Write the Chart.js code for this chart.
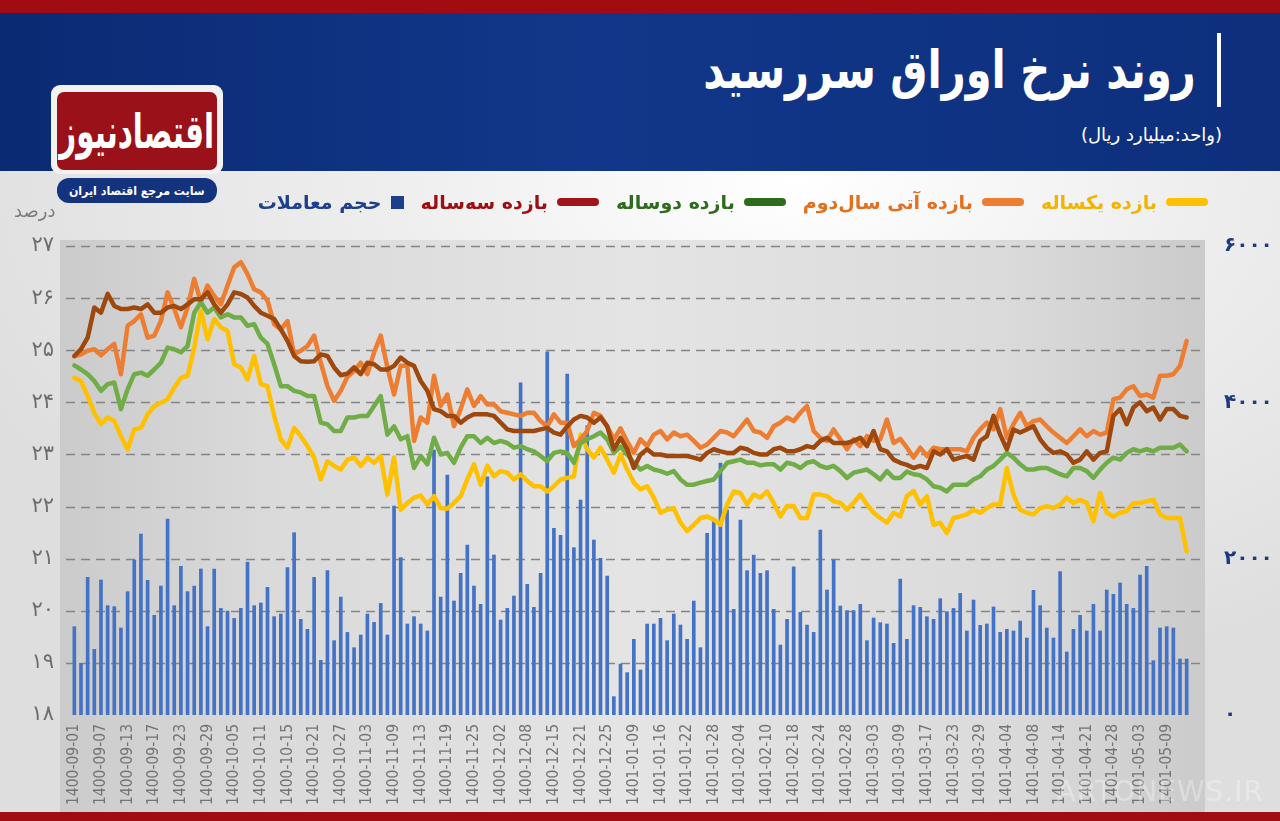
<!DOCTYPE html>
<html lang="fa">
<head>
<meta charset="utf-8">
<script src="https://cdn.jsdelivr.net/npm/chart.js@4.4.1/dist/chart.umd.min.js"></script>
<style>
  body { margin:0; width:1280px; height:821px; overflow:hidden; position:relative;
    background: radial-gradient(ellipse 900px 520px at 62% 22%, #ffffff 0%, #eeeeee 45%, #dedede 100%);
    font-family: "DejaVu Sans", sans-serif; }
  #chart { position:absolute; left:0; top:0; z-index:1; }
  .abs { position:absolute; z-index:2; }
  #topbar { left:0; top:0; width:1280px; height:13px; background:#a10b12; }
  #band { left:0; top:13px; width:1280px; height:158px;
    background: linear-gradient(90deg, #0a2a73 0%, #12378a 45%, #0d2f7c 100%); }
  #bottombar { left:0; top:812px; width:1280px; height:9px; background:#a10b12; z-index:3; }
  #title { right:84px; top:38px; color:#fff; font-weight:bold; font-size:52px; direction:rtl; white-space:nowrap;
    line-height:64px; transform:scaleX(0.8); transform-origin:right center; }
  #vbar { left:1217px; top:33px; width:4px; height:74px; background:#fff; }
  #unit { right:58px; top:124px; color:#fff; font-size:18px; direction:rtl; white-space:nowrap; }
  #logo { left:51px; top:85px; width:172px; height:89px; background:#f2f2f2; border-radius:9px; }
  #logoin { left:57px; top:92px; width:160px; height:78px; background:#9b1119; border-radius:7px; overflow:hidden;
    display:flex; align-items:center; justify-content:center; }
  #logoin span { color:#fff; font-weight:bold; font-size:28px; direction:rtl; display:inline-block; transform:scale(1.05,1.7); }
  #pill { left:57px; top:178px; width:160px; height:25px; background:#13337e; border-radius:12px;
    display:flex; align-items:center; justify-content:center; }
  #pill span { color:#fff; font-weight:bold; font-size:12px; direction:rtl; white-space:nowrap; display:inline-block; transform:scaleX(0.92); }
  #pct { left:14px; top:200px; color:#7c7c7c; font-size:18px; direction:rtl; }
  #legend { right:72px; top:191px; direction:rtl; display:flex; align-items:center; gap:17px; white-space:nowrap; }
  .item { display:flex; align-items:center; gap:9px; font-weight:bold; font-size:19px; }
  .mk { width:42px; height:8px; border-radius:4px; }
  .sq { width:13px; height:13px; }
  #wm { right:16px; top:775px; color:rgba(255,255,255,0.32); font-size:28px; letter-spacing:1px; z-index:3; }
</style>
</head>
<body>
<canvas id="chart" width="1280" height="821"></canvas>
<div class="abs" id="topbar"></div>
<div class="abs" id="band"></div>
<div class="abs" id="title">روند نرخ اوراق سررسید</div>
<div class="abs" id="vbar"></div>
<div class="abs" id="unit">(واحد:میلیارد ریال)</div>
<div class="abs" id="logo"></div>
<div class="abs" id="logoin"><span>اقتصادنیوز</span></div>
<div class="abs" id="pill"><span>سایت مرجع اقتصاد ایران</span></div>
<div class="abs" id="pct">درصد</div>
<div class="abs" id="legend">
  <div class="item" style="color:#f2b400"><span class="mk" style="background:#ffc000"></span>بازده یکساله</div>
  <div class="item" style="color:#e4701f"><span class="mk" style="background:#ed7d31"></span>بازده آتی سال‌دوم</div>
  <div class="item" style="color:#2f6b1c"><span class="mk" style="background:#2f6b1c"></span>بازده دوساله</div>
  <div class="item" style="color:#9c0e12"><span class="mk" style="background:#a0141a"></span>بازده سه‌ساله</div>
  <div class="item" style="color:#1e3f8c"><span class="sq" style="background:#1e3f8c"></span>حجم معاملات</div>
</div>
<div class="abs" id="wm">ARTONEWS.IR</div>
<div class="abs" id="bottombar"></div>

<script>
// trading days (category axis)
const dates = [
'1400-09-01','1400-09-02','1400-09-03','1400-09-06',
'1400-09-07','1400-09-08','1400-09-09','1400-09-10',
'1400-09-13','1400-09-14','1400-09-15','1400-09-16',
'1400-09-17','1400-09-20','1400-09-21','1400-09-22',
'1400-09-23','1400-09-24','1400-09-27','1400-09-28',
'1400-09-29','1400-09-30','1400-10-01','1400-10-04',
'1400-10-05','1400-10-06','1400-10-07','1400-10-08',
'1400-10-11','1400-10-12','1400-10-13','1400-10-14',
'1400-10-15','1400-10-18','1400-10-19','1400-10-20',
'1400-10-21','1400-10-22','1400-10-25','1400-10-26',
'1400-10-27','1400-10-28','1400-10-29','1400-11-02',
'1400-11-03','1400-11-04','1400-11-05','1400-11-06',
'1400-11-09','1400-11-10','1400-11-11','1400-11-12',
'1400-11-13','1400-11-16','1400-11-17','1400-11-18',
'1400-11-19','1400-11-20','1400-11-23','1400-11-24',
'1400-11-25','1400-11-26','1400-11-27','1400-11-30',
'1400-12-02','1400-12-03','1400-12-04','1400-12-07',
'1400-12-08','1400-12-09','1400-12-11','1400-12-14',
'1400-12-15','1400-12-16','1400-12-17','1400-12-18',
'1400-12-21','1400-12-22','1400-12-23','1400-12-24',
'1400-12-25','1400-12-28','1401-01-07','1401-01-08',
'1401-01-09','1401-01-10','1401-01-14','1401-01-15',
'1401-01-16','1401-01-17','1401-01-20','1401-01-21',
'1401-01-22','1401-01-23','1401-01-24','1401-01-27',
'1401-01-28','1401-01-29','1401-01-31','1401-02-03',
'1401-02-04','1401-02-05','1401-02-07','1401-02-08',
'1401-02-10','1401-02-11','1401-02-14','1401-02-17',
'1401-02-18','1401-02-19','1401-02-20','1401-02-21',
'1401-02-24','1401-02-25','1401-02-26','1401-02-27',
'1401-02-28','1401-02-31','1401-03-01','1401-03-02',
'1401-03-03','1401-03-04','1401-03-07','1401-03-08',
'1401-03-09','1401-03-10','1401-03-11','1401-03-16',
'1401-03-17','1401-03-18','1401-03-21','1401-03-22',
'1401-03-23','1401-03-24','1401-03-25','1401-03-28',
'1401-03-29','1401-03-30','1401-03-31','1401-04-01',
'1401-04-04','1401-04-05','1401-04-06','1401-04-07',
'1401-04-08','1401-04-11','1401-04-12','1401-04-13',
'1401-04-14','1401-04-15','1401-04-18','1401-04-19',
'1401-04-21','1401-04-22','1401-04-25','1401-04-26',
'1401-04-28','1401-04-29','1401-05-01','1401-05-02',
'1401-05-03','1401-05-04','1401-05-05','1401-05-08',
'1401-05-09','1401-05-10','1401-05-11','1401-05-12'
];

// بازده یکساله (%)
const yield1Y = [
24.47,24.41,24.12,23.80,23.58,23.71,23.64,23.35,23.10,23.48,
23.51,23.77,23.93,23.99,24.06,24.28,24.47,24.51,25.05,25.76,
25.21,25.60,25.44,25.37,24.73,24.67,24.44,24.89,24.35,24.31,
23.74,23.29,23.13,23.51,23.35,23.16,22.94,22.52,22.87,22.78,
22.71,22.90,22.94,22.78,22.94,22.84,22.97,22.23,22.94,21.94,
22.07,22.17,22.21,22.04,22.20,21.97,21.96,22.07,22.20,22.52,
22.81,22.42,22.78,22.58,22.68,22.65,22.52,22.62,22.49,22.39,
22.39,22.29,22.39,22.52,22.55,22.58,23.38,23.10,22.94,23.13,
22.90,22.65,23.00,22.71,22.46,22.33,22.39,22.17,21.88,21.94,
21.97,21.69,21.53,21.65,21.78,21.81,21.75,21.65,22.04,22.29,
22.26,22.04,22.23,22.17,22.29,22.07,21.81,22.01,22.01,21.78,
21.78,22.23,22.23,22.20,22.10,22.07,21.94,22.07,22.23,22.04,
21.88,21.78,21.69,21.88,21.81,22.20,22.30,22.04,22.20,21.65,
21.69,21.49,21.78,21.81,21.85,21.94,21.88,21.97,22.04,22.04,
22.74,22.23,21.94,21.88,21.85,21.97,22.01,21.97,22.04,22.17,
22.07,22.13,22.07,21.72,22.26,21.88,21.81,21.88,21.91,22.07,
22.07,22.10,22.13,21.85,21.78,21.78,21.78,21.14
];

// بازده آتی سال‌دوم (%)
const futureY2 = [
24.88,24.92,24.99,25.02,24.90,25.02,25.12,24.54,25.47,25.56,
25.69,25.24,25.28,25.56,26.11,25.79,25.44,25.82,26.37,25.92,
26.24,26.04,25.88,26.24,26.59,26.69,26.46,26.17,26.11,25.95,
25.50,25.40,25.56,24.92,24.99,25.08,25.28,24.76,24.31,24.03,
24.22,24.49,24.60,24.76,24.54,24.96,25.28,24.67,24.15,24.70,
24.70,23.26,23.71,23.61,24.51,23.93,24.15,23.54,23.87,24.25,
23.93,24.12,23.96,23.96,23.83,23.80,23.77,23.74,23.80,23.80,
23.64,23.54,23.77,23.61,23.61,23.16,23.29,23.45,23.80,23.74,
23.54,23.29,23.50,23.25,23.03,23.29,23.16,23.38,23.45,23.29,
23.42,23.35,23.38,23.26,23.13,23.19,23.32,23.45,23.42,23.35,
23.51,23.67,23.45,23.42,23.32,23.54,23.61,23.71,23.64,23.80,
23.93,23.45,23.32,23.26,23.48,23.29,23.10,23.29,23.16,23.35,
23.26,23.29,23.67,23.22,23.30,23.13,22.94,23.13,22.97,23.13,
23.10,23.10,23.10,23.10,23.06,23.32,23.48,23.61,23.48,23.87,
23.32,23.58,23.80,23.54,23.64,23.67,23.54,23.42,23.32,23.22,
23.35,23.48,23.35,23.45,23.38,23.42,24.06,24.09,24.25,24.31,
24.12,24.15,24.09,24.51,24.51,24.54,24.70,25.18
];

// بازده دوساله (%)
const yield2Y = [
24.71,24.63,24.54,24.41,24.22,24.35,24.38,23.87,24.25,24.54,
24.57,24.51,24.63,24.76,25.05,25.02,24.96,25.08,25.72,25.92,
25.72,25.82,25.63,25.69,25.63,25.63,25.47,25.50,25.24,25.12,
24.73,24.31,24.31,24.22,24.19,24.12,24.12,23.61,23.58,23.45,
23.45,23.71,23.71,23.74,23.74,23.93,24.12,23.38,23.54,23.29,
23.35,22.74,22.97,22.81,23.32,23.00,23.03,22.84,23.13,23.35,
23.35,23.22,23.32,23.22,23.26,23.22,23.13,23.16,23.10,23.06,
22.97,22.87,23.03,23.06,23.03,22.84,23.22,23.29,23.35,23.42,
23.29,23.03,23.15,23.00,22.84,22.71,22.78,22.71,22.68,22.63,
22.68,22.52,22.42,22.42,22.46,22.49,22.52,22.68,22.84,22.87,
22.90,22.84,22.84,22.79,22.81,22.81,22.71,22.84,22.81,22.74,
22.84,22.87,22.78,22.74,22.78,22.68,22.55,22.65,22.68,22.71,
22.62,22.52,22.68,22.55,22.55,22.67,22.62,22.60,22.52,22.39,
22.36,22.29,22.42,22.42,22.42,22.52,22.58,22.71,22.78,22.90,
23.03,22.94,22.81,22.71,22.71,22.74,22.74,22.68,22.62,22.58,
22.74,22.74,22.68,22.55,22.71,22.84,22.94,22.90,23.03,23.10,
23.06,23.10,23.06,23.13,23.13,23.13,23.19,23.06
];

// بازده سه‌ساله (%)
const yield3Y = [
24.89,25.02,25.24,25.82,25.72,26.08,25.85,25.79,25.79,25.82,
25.79,25.88,25.72,25.72,25.82,25.85,25.79,25.88,25.98,25.98,
26.11,25.88,25.72,25.88,26.11,26.08,26.01,25.85,25.72,25.66,
25.60,25.40,25.18,24.89,24.79,24.78,24.79,24.92,24.89,24.67,
24.52,24.55,24.67,24.54,24.76,24.73,24.63,24.63,24.70,24.86,
24.76,24.70,24.41,24.22,23.87,23.83,23.74,23.74,23.61,23.71,
23.77,23.77,23.77,23.74,23.61,23.48,23.45,23.45,23.45,23.45,
23.48,23.51,23.42,23.38,23.54,23.67,23.74,23.71,23.61,23.71,
23.54,23.10,23.32,23.10,22.74,23.00,23.10,23.00,23.00,22.97,
22.97,22.97,22.97,22.94,22.90,23.03,23.10,23.06,23.03,23.03,
23.13,23.10,23.03,23.00,23.00,23.10,23.13,23.06,23.06,23.10,
23.16,23.13,23.26,23.32,23.22,23.22,23.22,23.26,23.32,23.16,
23.45,23.10,23.06,22.90,22.84,22.80,22.74,22.78,22.74,23.06,
23.00,23.10,22.90,22.94,22.97,22.90,23.26,23.35,23.74,23.38,
23.10,23.48,23.42,23.48,23.54,23.29,23.13,23.03,23.06,23.00,
22.84,22.90,23.06,22.90,23.03,23.06,23.74,23.87,23.58,23.90,
24.00,23.83,23.90,23.67,23.87,23.87,23.74,23.71
];

// حجم معاملات (میلیارد ریال)
const volume = [
1130,661,1761,840,1727,1399,1386,1113,1578,1983,
2315,1723,1275,1650,2507,1399,1902,1578,1650,1868,
1130,1868,1364,1330,1237,1364,1957,1399,1433,1633,
1258,1292,1885,2332,1224,1096,1761,699,1846,951,
1509,1057,861,1023,1292,1185,1428,1023,2673,2013,
1164,1258,1164,1075,3389,1509,3070,1458,1812,2175,
1650,1416,3048,2047,1215,1364,1522,4250,1671,1377,
1812,4647,2388,2298,4361,2141,2750,3700,2239,2004,
1778,235,652,542,968,576,1164,1164,1237,951,
1292,1151,968,1458,861,2324,2473,3223,2622,1352,
2494,1846,2047,1812,1846,1352,895,1224,1897,1313,
1151,1057,2366,1599,1983,1394,1335,1335,1416,951,
1241,1181,1164,917,1740,968,1399,1377,1258,1224,
1488,1322,1364,1556,1075,1471,1147,1164,1382,1057,
1096,1075,1202,985,1595,1399,1113,985,1834,806,
1096,1275,1075,1416,1075,1599,1544,1689,1416,1364,
1791,1902,695,1113,1130,1113,716,716
];

const faDigits = '۰۱۲۳۴۵۶۷۸۹';
const toFa = (n) => String(n).replace(/\d/g, d => faDigits[d]);

// gray plot panel + dashed grid, drawn by hand so they run past the bar edges
const backdrop = {
  id: 'backdrop',
  beforeDraw(chart) {
    const { ctx, chartArea: a } = chart;
    const x0 = a.left - 11, x1 = a.right + 15, y0 = a.top - 6, y1 = chart.height - 9;
    ctx.save();
    const g = ctx.createLinearGradient(x0, 0, x1, 0);
    g.addColorStop(0, '#cbcbcb');
    g.addColorStop(0.18, '#dadada');
    g.addColorStop(0.5, '#e4e4e4');
    g.addColorStop(0.82, '#dbdbdb');
    g.addColorStop(1, '#cbcbcb');
    ctx.fillStyle = g;
    ctx.fillRect(x0, y0, x1 - x0, y1 - y0);
    ctx.restore();
  },
  beforeDatasetsDraw(chart) {
    const { ctx, chartArea: a, scales } = chart;
    ctx.save();
    ctx.strokeStyle = '#858585';
    ctx.lineWidth = 1.6;
    ctx.setLineDash([9, 6]);
    for (let v = 19; v <= 27; v++) {
      const y = Math.round(scales.y.getPixelForValue(v)) + 0.5;
      ctx.beginPath();
      ctx.moveTo(a.left - 5, y);
      ctx.lineTo(a.right + 13, y);
      ctx.stroke();
    }
    ctx.restore();
  }
};

function lineSet(label, data, color, order) {
  return {
    type: 'line', label: label, data: data, yAxisID: 'y',
    borderColor: color, backgroundColor: color, borderWidth: 4.5,
    pointRadius: 0, tension: 0, borderJoinStyle: 'round', borderCapStyle: 'round',
    order: order
  };
}

new Chart(document.getElementById('chart'), {
  type: 'bar',
  data: {
    labels: dates,
    datasets: [
      lineSet('بازده یکساله', yield1Y, '#ffc000', 4),
      lineSet('بازده آتی سال‌دوم', futureY2, '#ed7d31', 3),
      lineSet('بازده دوساله', yield2Y, '#70ad47', 2),
      lineSet('بازده سه‌ساله', yield3Y, '#9e480e', 1),
      {
        type: 'bar', label: 'حجم معاملات', data: volume, yAxisID: 'y1',
        backgroundColor: '#4472c4', barThickness: 3, order: 10
      }
    ]
  },
  plugins: [backdrop],
  options: {
    responsive: false,
    animation: false,
    layout: { padding: { left: 0, right: 0, top: 246, bottom: 0 } },
    plugins: { legend: { display: false }, tooltip: { enabled: false } },
    scales: {
      x: {
        grid: { display: false, drawTicks: false },
        border: { display: false },
        ticks: {
          autoSkip: false, maxRotation: 90, minRotation: 90, padding: 9,
          color: '#747474',
          font: { family: 'DejaVu Sans Condensed', size: 15.5 },
          callback: (v, i) => (i % 4 === 0 ? dates[i] : '')
        },
        afterFit: (s) => { s.height = 106; }
      },
      y: {
        position: 'left', min: 18, max: 27,
        grid: { display: false, drawTicks: false },
        border: { display: false },
        ticks: {
          stepSize: 1, padding: 17, color: '#6e6e6e',
          font: { family: 'DejaVu Sans', size: 21 },
          callback: (v) => toFa(v)
        },
        afterFit: (s) => { s.width = 71; }
      },
      y1: {
        position: 'right', min: 0, max: 6000,
        grid: { display: false, drawTicks: false },
        border: { display: false },
        ticks: {
          stepSize: 2000, padding: 34, color: '#1d3b7c',
          font: { family: 'DejaVu Sans', size: 20, weight: 'bold' },
          callback: (v) => toFa(v)
        },
        afterFit: (s) => { s.width = 90; }
      }
    }
  }
});
</script>
</body>
</html>
